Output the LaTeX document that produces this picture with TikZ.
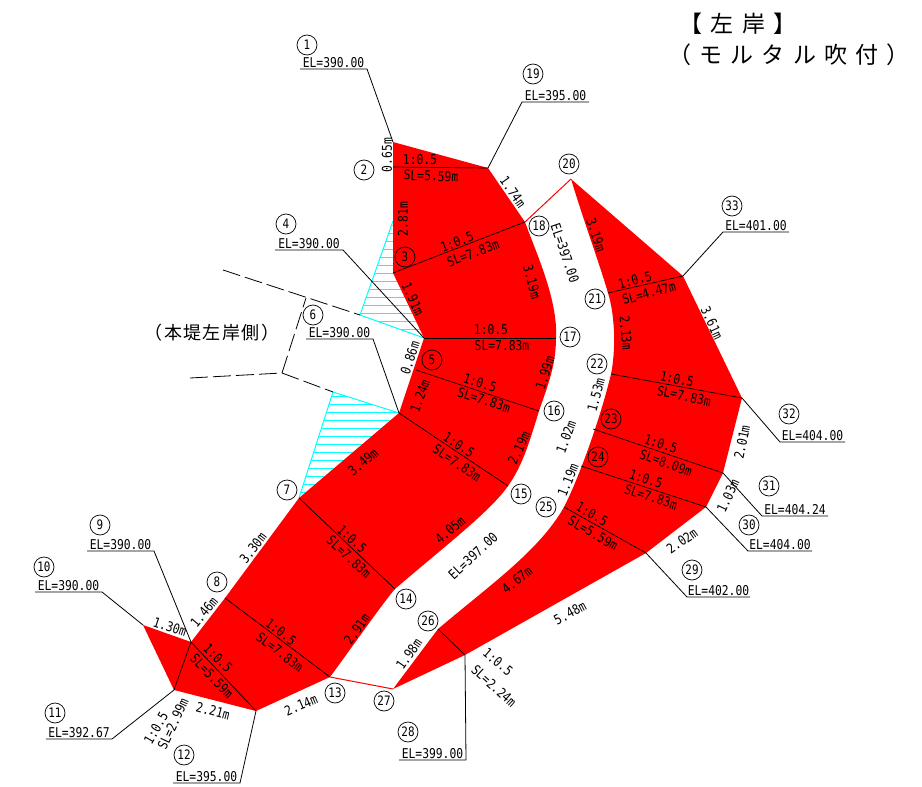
\documentclass[tikz,border=0pt]{standalone}
\usepackage{fontspec}
\newfontfamily\cadfont[FakeStretch=.84]{DejaVu Sans Mono}
\newfontfamily\titlefont[LetterSpace=35]{Noto Sans CJK JP}
\newfontfamily\notefont[LetterSpace=8]{Noto Sans CJK JP}
\begin{document}
\begin{tikzpicture}[x=1pt,y=-1pt,line width=.7pt]
\tikzstyle{marker}=[circle, draw, line width=.7pt, minimum size=20pt, inner sep=0pt, font=\cadfont\fontsize{13}{13}\selectfont]
\tikzstyle{dim}=[inner sep=0pt, font=\cadfont\fontsize{13.5}{13.5}\selectfont]
\tikzstyle{leader}=[line width=.8pt, black]
\tikzstyle{hatch}=[cyan, line width=1pt]
\tikzstyle{redge}=[red, line width=1pt]
\tikzstyle{fence}=[line width=.8pt, dash pattern=on 18pt off 5pt]
\definecolor{cyan}{RGB}{0,255,255}
\definecolor{red}{RGB}{255,0,0}
\useasboundingbox (0,0) rectangle (922,787);

\foreach \n/\x/\y in {1/393/142,2/393/167,3/393/273,4/424/338,5/416/370,6/399/413,7/299/498,8/225/598,9/191/642,10/143/625,11/174/690,12/256/711,13/330/677,14/395/589,15/508/486,16/539/411,17/556/338,18/525/222,19/488/168,20/571/179,21/608/293,22/611/374,23/593/429,24/581/466,25/564/507,26/438/629,27/393/689,28/465/655,29/646/553,30/706/507,31/723/473,32/742/398,33/683/276} {
\coordinate (p\n) at (\x,\y);
}
\coordinate (h1) at (393,221);
\coordinate (h2) at (360,315);
\coordinate (h3) at (333,392);
\coordinate (a1) at (223,270);
\coordinate (a2) at (306,298);
\coordinate (b1) at (190,378);
\coordinate (b2) at (282,373);

\begin{scope}
\clip (h1)--(h2)--(p4)--(p3)--cycle;
\foreach \y in {225,233,...,340} {
\draw[hatch] (340,\y)--(430,\y);
}
\end{scope}
\begin{scope}
\clip (h3)--(p6)--(p7)--cycle;
\foreach \y in {396,404,...,500} {
\draw[hatch] (290,\y)--(410,\y);
}
\end{scope}
\draw[hatch] (h1)--(h2)--(p4);
\draw[hatch] (h3)--(p6);
\draw[hatch] (h3)--(p7);
\draw[fence] (a1)--(h2);
\draw[fence] (b1)--(b2)--(h3);
\draw[fence] (b2)--(a2);

\fill[red] (p1)--(p19)--(p18) .. controls (537,255) and (558,300) .. (p17) .. controls (556,365) and (548,385) .. (p16) .. controls (530,440) and (523,465) .. (p15) .. controls (490,512) and (440,550) .. (p14) .. controls (385,600) and (350,650) .. (p13)--(p12)--(p11)--(p10)--(p9)--(p8)--(p7)--(p6)--(p4)--(p3)--cycle;
\fill[red] (p26) .. controls (490,585) and (540,550) .. (p25) .. controls (578,480) and (600,420) .. (p22) .. controls (616,350) and (615,315) .. (p21) .. controls (600,265) and (585,225) .. (p20)--(p33)--(p32)--(p31)--(p30)--(p29)--(p28)--(p27)--cycle;
\draw[redge] (p18)--(p20);
\draw[redge] (p13)--(p27);

\draw (p2)--(p19);
\draw (p3)--(p18);
\draw (p4)--(p17);
\draw (p5)--(p16);
\draw (p6)--(p15);
\draw (p7)--(p14);
\draw (p8)--(p13);
\draw (p9)--(p12);
\draw (p9)--(p11);
\draw (p26)--(p28);
\draw (p25)--(p29);
\draw (p24)--(p30);
\draw (p23)--(p31);
\draw (p22)--(p32);
\draw (p21)--(p33);

\foreach \n/\bx/\ex/\y/\t in {1/367/300/69/390.00,4/343/275/250/390.00,6/373/306/339/390.00,9/154/87/551/390.00,10/102/35/592/390.00,11/112/46/739/392.67,12/240/173/783/395.00,19/522/589/102/395.00,28/466/399/760/399.00,29/687/750/597/402.00,30/748/812/551/404.00,31/762/828/516/404.24,32/780/845/442/404.00,33/723/789/232/401.00} {
\coordinate (b\n) at (\bx,\y);
\coordinate (f\n) at (\ex,\y);
\draw[leader] (p\n)--(b\n)--(f\n) node[midway, above=1pt, dim] (e\n) {EL=\t};
}

\foreach \n/\x/\y in {1/307/45,2/364/170,3/405/257,4/286/224,5/432/360,6/313/315,7/287/490,8/217/582,9/100/525,10/44/567,11/55/713,12/184/755,13/335/693,14/406/599,15/521/494,16/554/411,17/570/337,18/539/226,19/533/74,20/569/164,21/595/299,22/597/364,23/611/419,24/598/457,25/546/507,26/428/621,27/384/701,28/408/732,29/692/570,30/749/525,31/769/486,32/789/414,33/732/206} {
\node[marker] (c\n) at (\x,\y) {\n};
}

\foreach \x/\y/\r/\t [count=\i] in {387/155/90/0.65m,420/160/0/1:0.5,431/176/-2/SL=5.59m,513/192/-55/1.74m,403/219/90/2.81m,457/242/21/1:0.5,473/253/21/SL=7.83m,532/282/-75/3.19m,565/253/-71/EL=397.00,596/235/-71/3.19m,413/299/-65/1.91m,410/358/72/0.86m,420/396/70/1.24m,363/462/40/3.49m,491/330/0/1:0.5,502/346/0/SL=7.83m,480/383/-18/1:0.5,484/400/-18/SL=7.83m,459/445/-34/1:0.5,457/463/-34/SL=7.83m,545/373/72/1.99m,519/448/65/2.19m,450/530/40/4.05m,473/556/43/EL=397.00,596/395/75/1.53m,566/437/70/1.02m,568/480/68/1.19m,592/514/-30/1:0.5,593/533/-30/SL=5.59m,352/539/-42/1:0.5,349/557/-43/SL=7.83m,357/629/55/2.91m,517/580/38/4.67m,570/613/28/5.48m,409/654/55/1.98m,498/662/-40/1:0.5,494/686/-42/SL=2.24m,281/632/-37/1:0.5,280/652/-37/SL=7.83m,218/658/-45/1:0.5,212/676/-46/SL=5.59m,156/728/60/1:0.5,173/724/65/SL=2.99m,170/627/-18/1.30m,204/612/50/1.46m,253/548/52/3.30m,213/711/-15/2.21m,301/705/23/2.14m,626/333/-85/2.13m,635/280/15/1:0.5,649/293/15/SL=4.47m,712/323/-65/3.61m,677/379/-12/1:0.5,684/396/-12/SL=7.83m,742/442/78/2.01m,661/444/-18/1:0.5,666/463/-20/SL=8.09m,728/496/65/1.03m,646/479/-18/1:0.5,651/497/-18/SL=7.83m,682/541/35/2.02m} {
\node[dim, rotate=\r] (d\i) at (\x,\y) {\t};
}

\node[font=\titlefont\fontsize{23}{23}\selectfont, inner sep=0pt] (t1) at (738,24) {【左岸】};
\node[font=\titlefont\fontsize{23}{23}\selectfont, inner sep=0pt] (t2) at (789,55) {（モルタル吹付）};
\node[font=\notefont\fontsize{18}{18}\selectfont, inner sep=0pt] (t3) at (212,333) {（本堤左岸側）};
\end{tikzpicture}
\end{document}
